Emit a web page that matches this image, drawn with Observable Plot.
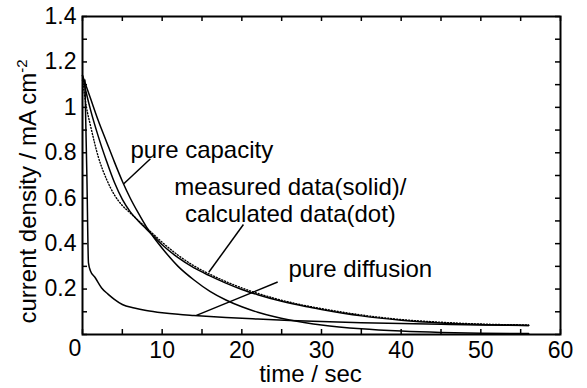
<!DOCTYPE html>
<html><head><meta charset="utf-8">
<script src="https://cdn.jsdelivr.net/npm/d3@7"></script>
<script src="https://cdn.jsdelivr.net/npm/@observablehq/plot@0.6"></script>
<style>body{margin:0;background:#fff}</style>
</head><body><div id="chart"></div>
<script>
// measured data (solid)
const measT = [0, 0.5, 1, 2, 3, 4, 5, 6, 7, 8, 9, 10, 12, 14, 16, 18, 20, 22, 25, 28, 30, 35, 40, 45, 50, 56];
const measI = [1.14, 1.06, 0.99, 0.87, 0.765, 0.67, 0.595, 0.54, 0.5, 0.465, 0.43, 0.395, 0.338, 0.293, 0.258, 0.226, 0.198, 0.175, 0.146, 0.123, 0.11, 0.082, 0.063, 0.051, 0.044, 0.04];
// calculated data (dot)
const calcT = [0, 0.5, 1, 2, 3, 4, 5, 6, 7, 8, 9, 10, 12, 14, 16, 18, 20, 22, 25, 28, 30, 35, 40, 45, 50, 56];
const calcI = [1.12, 1.0, 0.92, 0.78, 0.685, 0.615, 0.568, 0.535, 0.502, 0.47, 0.438, 0.406, 0.349, 0.302, 0.265, 0.233, 0.205, 0.181, 0.151, 0.127, 0.114, 0.086, 0.066, 0.054, 0.046, 0.042];
// pure capacity
const capT = [0, 1, 2, 3, 4, 5, 6, 7, 8, 9, 10, 12, 14, 16, 18, 20, 22, 24, 26, 28, 30, 35, 40, 45, 50, 56];
const capI = [1.14, 1.04, 0.94, 0.85, 0.76, 0.675, 0.6, 0.535, 0.475, 0.425, 0.38, 0.3, 0.24, 0.19, 0.152, 0.122, 0.098, 0.079, 0.064, 0.052, 0.042, 0.025, 0.015, 0.009, 0.006, 0.004];
// pure diffusion
const difT = [0.3, 0.55, 0.75, 1.0, 1.6, 2.4, 3.2, 4, 5, 6.5, 8, 10, 12, 14, 18, 22, 26, 30, 35, 40, 45, 50, 56];
const difI = [1.12, 0.7, 0.315, 0.28, 0.25, 0.205, 0.178, 0.155, 0.132, 0.117, 0.106, 0.096, 0.089, 0.084, 0.075, 0.068, 0.062, 0.057, 0.052, 0.048, 0.045, 0.042, 0.04];

// ticks
const xTicks = [0, 5, 10, 15, 20, 25, 30, 35, 40, 45, 50, 55, 60];
const yTicks = [0, 0.1, 0.2, 0.3, 0.4, 0.5, 0.6, 0.7, 0.8, 0.9, 1, 1.1, 1.2, 1.3, 1.4];
const xLabels = [10, 20, 30, 40, 50, 60];
const yLabels = [0.2, 0.4, 0.6, 0.8, 1, 1.2, 1.4];

// annotations
const annoText = ["pure capacity", "measured data(solid)/", "calculated data(dot)", "pure diffusion"];
const annoT = [6.02, 26.1, 26.1, 25.86];
const annoI = [0.813, 0.646, 0.527, 0.289];
const annoAnchor = ["start", "middle", "middle", "start"];
const ptrT1 = [5.18, 15.85, 14.3];
const ptrI1 = [0.664, 0.274, 0.084];
const ptrT2 = [8.53, 20.2, 24.5];
const ptrI2 = [0.774, 0.484, 0.231];

const rows = (T, V) => T.map((t, i) => ({t, v: V[i]}));
const annos = annoText.map((s, i) => ({s, t: annoT[i], v: annoI[i], a: annoAnchor[i]}));
const ptrs = ptrT1.map((t, i) => ({t1: t, v1: ptrI1[i], t2: ptrT2[i], v2: ptrI2[i]}));

const W = 587, H = 388, mL = 82, mR = 27, mT = 16, mB = 54;
const fw = W - mL - mR, fh = H - mT - mB;
const font = "'Liberation Sans', Arial, Helvetica, sans-serif";
const tk = 5;

const chart = Plot.plot({
  width: W, height: H,
  marginLeft: mL, marginRight: mR, marginTop: mT, marginBottom: mB,
  style: {fontFamily: font, fontSize: "23px", background: "white", color: "black", overflow: "visible"},
  x: {domain: [0, 60], label: null},
  y: {domain: [0, 1.4], label: null},
  marks: [
    Plot.tickX(xTicks, {x: d => d, insetTop: fh - tk, stroke: "black", strokeWidth: 1.5}),
    Plot.tickX(xTicks, {x: d => d, insetBottom: fh - tk, stroke: "black", strokeWidth: 1.5}),
    Plot.tickY(yTicks, {y: d => d, insetRight: fw - tk, stroke: "black", strokeWidth: 1.5}),
    Plot.tickY(yTicks, {y: d => d, insetLeft: fw - tk, stroke: "black", strokeWidth: 1.5}),
    Plot.axisX({ticks: xLabels, tickSize: 0, tickPadding: 7, fontSize: 23, label: null, tickFormat: d => String(d)}),
    Plot.axisY({ticks: yLabels, tickSize: 0, tickPadding: 6, fontSize: 23, label: null, tickFormat: d => String(d)}),
    Plot.text(["0"], {frameAnchor: "bottom-left", lineAnchor: "middle", dx: -14, dy: 14.3, fontSize: 23, fill: "black"}),
    Plot.line(rows(capT, capI), {x: "t", y: "v", stroke: "black", strokeWidth: 1.5, curve: "monotone-x"}),
    Plot.line(rows(difT, difI), {x: "t", y: "v", stroke: "black", strokeWidth: 1.5, curve: "monotone-x"}),
    Plot.line(rows(measT, measI), {x: "t", y: "v", stroke: "black", strokeWidth: 1.5, curve: "monotone-x"}),
    Plot.line(rows(calcT, calcI), {x: "t", y: "v", stroke: "black", strokeWidth: 1.4, strokeDasharray: "1,2", curve: "monotone-x"}),
    Plot.link(ptrs, {x1: "t1", y1: "v1", x2: "t2", y2: "v2", stroke: "black", strokeWidth: 1.5}),
    Plot.text(annos.filter(d => d.a === "middle"), {x: "t", y: "v", text: "s", textAnchor: "middle", lineAnchor: "middle", fontSize: 24, fill: "black"}),
    Plot.text(annos.filter(d => d.a === "start"), {x: "t", y: "v", text: "s", textAnchor: "start", lineAnchor: "middle", fontSize: 24, fill: "black"}),
    Plot.text(["time / sec"], {frameAnchor: "bottom", lineAnchor: "middle", dx: -11, dy: 40.3, fontSize: 24, fill: "black"}),
    Plot.text(["current density / mA cm"], {frameAnchor: "bottom-left", lineAnchor: "middle", rotate: -90, textAnchor: "start", dx: -54, dy: -11, fontSize: 24, fill: "black", className: "ylab"}),
    Plot.frame({stroke: "black", strokeWidth: 2})
  ]
});
document.getElementById("chart").appendChild(chart);
d3.select(chart).select("g.ylab text").append("tspan").attr("dy", "-0.6em").attr("font-size", "15px").text("-2");
</script>
</body></html>
